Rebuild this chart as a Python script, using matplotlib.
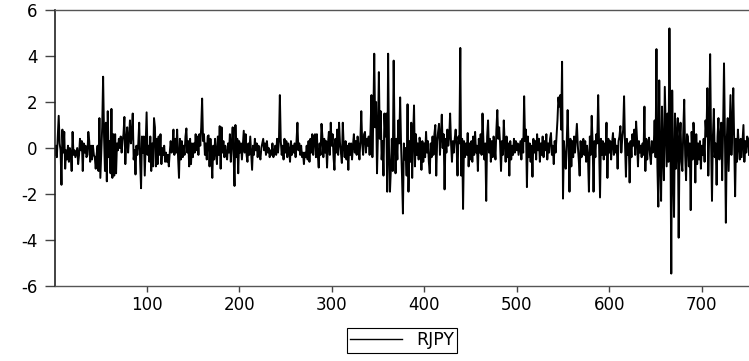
import numpy as np
import matplotlib
matplotlib.use('Agg')
import matplotlib.pyplot as plt

plt.rcParams['font.family'] = 'DejaVu Sans'
plt.rcParams['axes.unicode_minus'] = False

rjpy_001_100 = [
    -0.3, 0.1, -0.4, 0.5, 1.4, 0.2, -0.1, -1.6, 0.8, -0.2,
    0.7, -0.9, -0.1, -0.5, 0.1, -0.6, 0.0, -0.2, -1.0, 0.7,
    -0.3, -0.1, -0.4, -0.2, 0.0, -0.7, -0.3, 0.4, -0.1, 0.3,
    -1.0, 0.2, -0.2, 0.1, -0.4, -0.3, 0.7, 0.3, -0.6, 0.1,
    -0.5, 0.1, -0.3, -0.4, -0.9, -0.3, 0.1, -1.0, 1.3, -1.3,
    -0.2, 0.9, 3.1, 0.5, -1.0, 1.1, -1.45, 1.6, -0.4, 0.3,
    -1.1, 1.7, -1.3, 0.6, -1.2, 0.6, -1.1, 0.2, -0.1, 0.4,
    0.0, 0.5, -0.2, 0.3, 0.6, 1.35, -0.7, 0.3, 0.9, -0.2,
    0.4, 1.2, 0.2, 0.6, 1.5, -0.5, -0.1, -1.15, 0.1, -0.3,
    0.2, 1.1, -0.6, -1.75, 0.5, -0.2, 0.5, -1.2, 0.1, 1.55,
]
rjpy_101_200 = [
    -0.3, 0.1, -0.6, 0.5, -1.0, 0.2, -0.8, 1.3, 0.9, -0.8,
    0.4, -0.7, 0.5, -0.3, 0.6, -0.7, 0.0, -0.3, 0.1, -0.6,
    -0.2, -0.6, -0.3, -0.8, -0.2, 0.3, -0.2, 0.1, 0.8, -0.3,
    0.4, -0.2, 0.8, -0.4, -1.3, 0.4, -0.5, 0.3, -0.4, 0.1,
    -0.3, 0.5, 0.85, -0.2, 0.3, -0.8, 0.4, -0.7, 0.2, -0.4,
    0.2, -0.2, 0.6, -0.1, 0.5, -0.3, 0.6, 0.1, 0.9, 2.15,
    0.3, 0.6, -0.3, 0.2, -0.5, 0.5, 0.55, -0.8, 0.4, -0.4,
    -1.3, 0.1, -0.5, 0.4, -0.2, -0.7, 0.5, -0.3, 0.95, -0.9,
    0.9, -0.2, 0.3, -0.4, 0.1, -0.3, -0.5, 0.2, -0.2, 0.6,
    -0.6, 0.2, 0.9, -0.3, -1.65, 1.0, -0.4, 0.4, -1.1, 0.3,
]
rjpy_201_300 = [
    -0.2, 0.2, -0.5, 0.1, 0.75, -0.2, 0.6, -0.3, -0.6, 0.2,
    -0.3, 0.5, -0.2, -0.95, 0.1, -0.3, 0.4, -0.1, 0.2, -0.4,
    0.1, -0.3, -0.5, 0.0, 0.2, 0.4, -0.1, 0.2, -0.3, 0.3,
    -0.2, 0.0, -0.4, -0.1, -0.3, 0.2, -0.4, -0.2, 0.1, -0.3,
    0.4, -0.2, 0.3, 2.3, 0.3, -0.3, 0.1, -0.5, 0.4, -0.2,
    0.3, -0.4, 0.2, -0.1, -0.6, 0.3, -0.3, 0.1, -0.2, 0.2,
    -0.4, 0.3, 1.1, -0.1, 0.2, -0.3, 0.1, -0.4, -0.2, -0.7,
    -0.2, -0.4, 0.1, -0.5, 0.3, -0.6, 0.4, -0.2, 0.6, -0.3,
    0.5, 0.6, -0.4, 0.6, -0.3, -0.85, 0.2, -0.3, 1.05, 0.5,
    -0.4, 0.4, -0.2, 0.3, -0.85, 0.2, 0.7, -0.3, 1.1, 0.1,
]
rjpy_301_400 = [
    0.6, -0.4, -0.95, 0.4, -0.2, 0.8, -0.3, 1.1, 0.2, -0.2,
    -0.65, 1.1, 0.1, -0.4, 0.3, -0.5, 0.1, -0.95, 0.2, -0.3,
    0.2, -0.5, 0.1, 0.6, -0.2, 0.3, -0.3, 0.5, 0.1, -0.5,
    0.3, 1.6, 0.2, -0.3, 0.6, 0.7, -0.2, 0.4, 0.1, 0.5,
    -0.3, 0.8, 2.3, -0.4, 1.2, 4.1, 0.9, 2.0, -1.1, 0.6,
    3.3, 0.4, 1.6, -0.5, 0.3, -1.2, 1.5, 0.5, 1.5, -1.9,
    4.1, -0.2, -1.9, -0.9, 0.4, -1.0, 3.8, 0.3, -1.1, 0.4,
    -0.5, 1.2, 0.2, 2.2, 0.1, -1.2, -2.85, 0.2, -0.5, 0.0,
    -1.2, 1.9, -1.9, 0.3, -0.6, 1.1, -1.3, 0.5, 1.85, -0.8,
    0.6, -0.3, 0.2, -0.5, 0.45, 0.1, -0.95, 0.3, -0.6, 0.2,
]
rjpy_401_500 = [
    -0.4, 0.7, -0.2, 0.3, -0.6, -1.1, 0.2, -0.4, 0.5, -0.3,
    0.6, 1.0, -1.2, 0.3, 0.7, 1.05, -0.3, 0.5, 1.45, 0.0,
    0.6, -1.8, 0.4, -0.2, 0.8, 0.1, 0.5, 1.5, 0.2, -0.6,
    0.3, -0.2, 0.4, 0.8, 0.1, -1.2, 0.5, 0.2, 4.35, -1.2,
    0.4, -2.65, 0.3, -0.4, 0.2, -0.3, 0.65, -0.8, 0.2, -0.5,
    0.3, -0.6, 0.5, -0.3, 0.7, -0.2, 0.1, -1.0, 0.4, -0.2,
    0.6, -0.3, 1.5, 0.3, -0.5, 0.2, -2.3, 0.5, 1.2, -0.2,
    0.4, -0.6, 0.3, -0.4, 0.5, 0.1, -0.5, 0.8, 1.65, 0.4,
    0.9, 0.2, -1.0, 0.3, -0.3, 1.2, 0.2, -0.6, 0.5, -0.4,
    0.2, -1.2, 0.3, -0.5, 0.1, -0.3, 0.4, -0.2, 0.3, -0.1,
]
rjpy_501_600 = [
    0.2, -0.3, 0.0, 0.3, -0.5, 0.4, -0.2, 2.25, 0.3, 0.8,
    -1.7, 0.5, -0.4, 0.2, -0.6, 0.1, -1.25, 0.4, -0.2, 0.3,
    -0.5, 0.6, -0.1, 0.4, -0.6, 0.2, -0.3, 0.5, -0.4, 0.3,
    -0.1, 0.6, -0.5, 0.2, -0.2, 0.4, 0.65, -0.3, 0.1, -0.7,
    0.3, -0.2, 0.5, 1.2, 2.2, 1.8, 2.3, 0.8, 3.75, -2.2,
    0.3, -0.5, -0.9, 0.2, 1.65, 0.1, -1.9, 0.4, -0.8, 0.3,
    -0.4, 0.5, -0.2, 0.4, 1.05, 0.1, -0.5, -1.2, 0.3, -0.4,
    0.2, 0.4, -0.3, 0.3, -0.6, 0.1, -0.4, -1.9, 0.5, -0.3,
    1.4, 0.2, -1.9, 0.3, -0.4, 0.6, 0.2, 2.3, 0.1, -2.15,
    0.4, -0.3, 0.3, -0.5, 0.2, -0.3, 1.1, -1.3, 0.4, -0.2,
]
rjpy_601_700 = [
    0.3, -0.5, 0.2, 0.65, -0.3, 0.4, -0.2, 0.1, -0.9, 0.3,
    0.5, 0.95, -0.2, 0.4, 0.8, 2.25, 0.2, -1.25, 0.4, -0.3,
    0.2, -1.5, 0.3, -0.4, 0.6, 0.1, 0.8, -0.3, 1.15, 0.4,
    -0.8, 0.3, -0.2, 0.1, -0.4, 0.2, -0.3, 1.8, -1.0, 0.4,
    -0.5, 0.2, 0.45, -0.3, -0.7, 0.3, -0.2, 0.0, 1.2, -0.4,
    4.3, -0.8, -2.55, 2.94, -0.6, -2.3, 1.8, -0.4, -1.4, 2.66,
    0.9, -0.8, 1.5, -0.6, 5.2, 1.0, -5.46, 2.5, -0.8, -3.0,
    1.5, -0.9, 0.4, 1.3, -3.9, 0.3, 1.1, -0.6, -1.0, 0.8,
    2.1, -0.3, -1.4, 0.6, 0.5, -0.8, 0.2, -2.7, 0.7, -0.5,
    1.1, 0.4, -1.5, 0.6, -0.7, 0.2, -0.5, 0.3, -0.9, 0.1,
]
rjpy_701_751 = [
    -0.3, 0.4, -0.6, 1.2, 0.5, 2.6, -1.2, 0.6, 4.08, 0.3,
    -2.3, 0.5, 1.7, -0.4, 0.2, -1.6, 0.5, 1.3, -0.5, 0.4,
    1.1, -1.4, 0.8, 3.68, 0.5, -3.25, 0.4, 1.3, -1.0, 0.6,
    2.3, -0.3, 0.9, 2.6, 0.2, -2.1, 0.4, -0.6, 0.8, 0.1,
    -0.5, 0.4, -0.4, 0.3, 1.0, -0.6, 0.3, -0.2, 0.5, 0.4,
    -0.3,
]

rjpy = (rjpy_001_100 + rjpy_101_200 + rjpy_201_300 + rjpy_301_400
        + rjpy_401_500 + rjpy_501_600 + rjpy_601_700 + rjpy_701_751)
obs = np.arange(1, len(rjpy) + 1)

x_ticks = [100, 200, 300, 400, 500, 600, 700]
y_ticks = [-6, -4, -2, 0, 2, 4, 6]

fig = plt.figure(figsize=(7.49, 3.61), dpi=100)
ax = fig.add_axes([55 / 749, 1 - 286 / 361, 694 / 749, 276 / 361])
ax.plot(obs, rjpy, color='black', lw=1.4, label='RJPY')

ax.set_xlim(1, len(rjpy))
ax.set_ylim(-6, 6)
ax.set_xticks(x_ticks)
ax.set_yticks(y_ticks)
ax.set_yticklabels([str(v) for v in y_ticks])

ax.spines['right'].set_visible(False)
ax.spines['left'].set_color('#222222')
ax.spines['left'].set_linewidth(1.2)
for s in ['top', 'bottom']:
    ax.spines[s].set_color('#555555')
    ax.spines[s].set_linewidth(1.0)

ax.tick_params(axis='y', direction='out', length=7, width=1, pad=5.5,
               labelsize=12, color='#444444')
ax.tick_params(axis='x', direction='out', length=4, width=1, pad=3.5,
               labelsize=12, color='#444444')

leg = ax.legend(loc='center', bbox_to_anchor=(0.5, -0.196), fontsize=12.5,
                frameon=True, fancybox=False, framealpha=1, edgecolor='black',
                handlelength=3.0, handletextpad=0.8, borderpad=0.2)
leg.get_frame().set_linewidth(0.8)
leg.get_lines()[0].set_linewidth(1.0)

plt.savefig('out.png', dpi=100)
